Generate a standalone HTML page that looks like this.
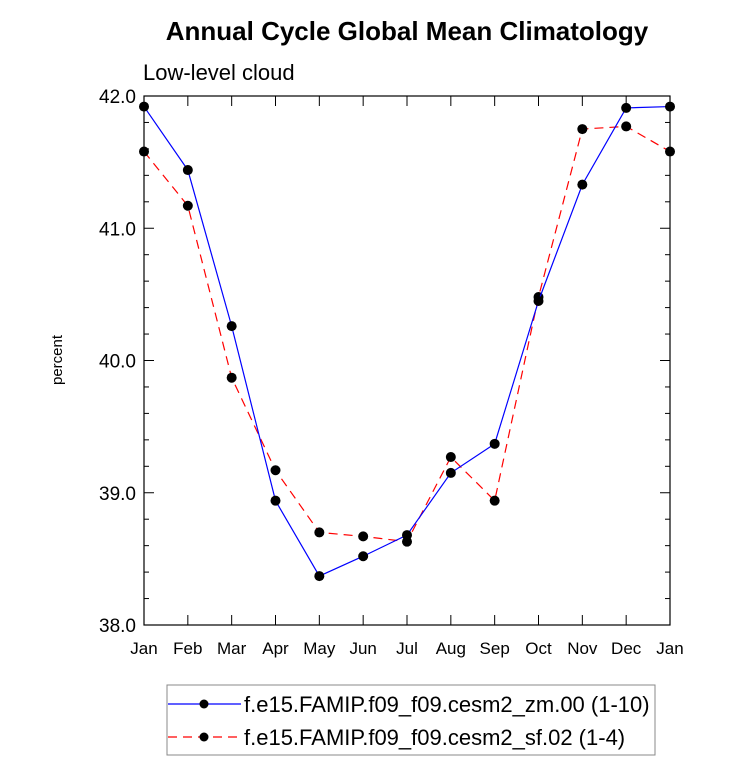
<!DOCTYPE html>
<html><head><meta charset="utf-8"><style>
body{margin:0;background:#fff;}
svg text{font-family:"Liberation Sans",Arial,sans-serif;}
</style></head><body>
<svg id="c" width="733" height="761" xmlns="http://www.w3.org/2000/svg">
<text x="407" y="40" text-anchor="middle" font-size="26" font-weight="bold">Annual Cycle Global Mean Climatology</text>
<text x="143" y="80" font-size="22">Low-level cloud</text>
<text transform="translate(62,360) rotate(-90)" text-anchor="middle" font-size="15">percent</text>
<g id="axes"></g>
<g id="series"></g>
<g>
<rect x="167" y="685" width="488" height="70" fill="none" stroke="#888" stroke-width="1"/>
<g>
<line x1="168" y1="704" x2="241" y2="704" stroke="#00f" stroke-width="1.2"/>
<circle cx="204" cy="704" r="4.5" fill="#000"/>
<text x="244" y="712" font-size="22">f.e15.FAMIP.f09_f09.cesm2_zm.00 (1-10)</text>
</g>
<g>
<line x1="168" y1="737" x2="241" y2="737" stroke="#f00" stroke-width="1.2" stroke-dasharray="9,6"/>
<circle cx="204" cy="737" r="4.5" fill="#000"/>
<text x="244" y="745" font-size="22">f.e15.FAMIP.f09_f09.cesm2_sf.02 (1-4)</text>
</g>
</g>
</svg>
<script>
const months = ["Jan","Feb","Mar","Apr","May","Jun","Jul","Aug","Sep","Oct","Nov","Dec","Jan"];
const seriesZm = [41.92,41.44,40.26,38.94,38.37,38.52,38.68,39.15,39.37,40.45,41.33,41.91,41.92];
const seriesSf = [41.58,41.17,39.87,39.17,38.70,38.67,38.63,39.27,38.94,40.48,41.75,41.77,41.58];
const yTicks = [38.0,39.0,40.0,41.0,42.0];
const yMin=38, yMax=42;
const L=144,R=670,T=96,B=625;
const NS="http://www.w3.org/2000/svg";
function xs(i){return L+(R-L)*i/(months.length-1);}
function ys(v){return B-(v-yMin)/(yMax-yMin)*(B-T);}
function mk(tag,attrs,parent){const e=document.createElementNS(NS,tag);for(const k in attrs)e.setAttribute(k,attrs[k]);parent.appendChild(e);return e;}
const ax=document.getElementById('axes');
const fr=mk('rect',{x:L,y:T,width:R-L,height:B-T,fill:'none',stroke:'#000','stroke-width':1.2},ax);


for(let v=yMin;v<=yMax+1e-9;v+=0.2){
  const y=ys(v);const major=Math.abs(v-Math.round(v))<1e-6;const len=major?10:5;
  mk('line',{x1:L,y1:y,x2:L+len,y2:y,stroke:'#000'},ax);
  mk('line',{x1:R,y1:y,x2:R-len,y2:y,stroke:'#000'},ax);
}
yTicks.forEach(v=>{
  const t=mk('text',{x:L-8,y:ys(v)+7,'text-anchor':'end','font-size':19},ax);
  t.textContent=v.toFixed(1);
  
  
});
months.forEach((m,i)=>{
  const x=xs(i);
  mk('line',{x1:x,y1:B,x2:x,y2:B-10,stroke:'#000'},ax);
  mk('line',{x1:x,y1:T,x2:x,y2:T+10,stroke:'#000'},ax);
  const t=mk('text',{x:x,y:B+29,'text-anchor':'middle','font-size':17},ax);
  t.textContent=m;
  
  
});
const sg=document.getElementById('series');
function draw(vals,color,dash,name){
  const g=mk('g',{},sg);
  
  
  const p=mk('polyline',{points:vals.map((v,i)=>xs(i)+','+ys(v)).join(' '),fill:'none',stroke:color,'stroke-width':1.2,'stroke-dasharray':dash},g);
  
  
  vals.forEach((v,i)=>{
    const c=mk('circle',{cx:xs(i),cy:ys(v),r:5,fill:'#000'},g);
    
    
  });
}
draw(seriesSf,'#f00','9,6','series-sf');
draw(seriesZm,'#00f','none','series-zm');
</script>
</body></html>
